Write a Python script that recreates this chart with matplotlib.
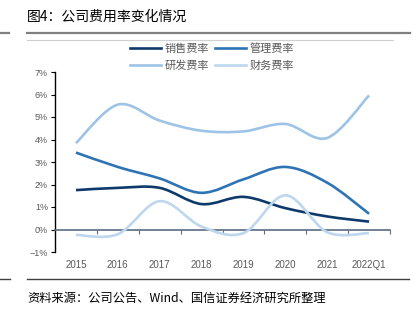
import matplotlib
matplotlib.use("Agg")
import matplotlib.pyplot as plt
import numpy as np
from matplotlib.path import Path
from matplotlib.patches import PathPatch
from matplotlib.lines import Line2D

plt.rcParams['font.family'] = ['Noto Sans CJK SC', 'DejaVu Sans']

categories = ['2015', '2016', '2017', '2018', '2019', '2020', '2021', '2022Q1']
sales_rate = [1.75, 1.85, 1.85, 1.13, 1.45, 0.95, 0.58, 0.35]
admin_rate = [3.42, 2.78, 2.27, 1.63, 2.23, 2.78, 2.08, 0.70]
rd_rate = [3.84, 5.55, 4.84, 4.39, 4.36, 4.69, 4.07, 5.96]
fin_rate = [-0.24, -0.21, 1.26, 0.13, -0.16, 1.52, -0.12, -0.16]
series_names = ['销售费率', '管理费率', '研发费率', '财务费率']
y_ticks = [-1, 0, 1, 2, 3, 4, 5, 6, 7]

colors = ['#0E3A6B', '#2E74B5', '#9DC3E6', '#BDD7EE']

W, H = 417, 322
fig = plt.figure(figsize=(W / 100, H / 100), dpi=100)
ax = fig.add_axes([55 / W, (H - 252) / H, (390 - 55) / W, (252 - 72) / H])


def smooth_path(xs, ys):
    pts = np.column_stack([xs, ys]).astype(float)
    n = len(pts)
    verts = [pts[0]]
    codes = [Path.MOVETO]
    for i in range(n - 1):
        p0 = pts[i - 1] if i > 0 else pts[i]
        p1 = pts[i]
        p2 = pts[i + 1]
        p3 = pts[i + 2] if i + 2 < n else pts[i + 1]
        c1 = p1 + (p2 - p0) / 6.0
        c2 = p2 - (p3 - p1) / 6.0
        verts += [c1, c2, p2]
        codes += [Path.CURVE4] * 3
    return Path(verts, codes)


x = np.arange(len(categories))
handles = []
for vals, c, name in zip([sales_rate, admin_rate, rd_rate, fin_rate], colors, series_names):
    patch = PathPatch(smooth_path(x, vals), facecolor='none', edgecolor=c, lw=1.9,
                      capstyle='butt', zorder=3)
    ax.add_patch(patch)
    handles.append(Line2D([], [], color=c, lw=1.9, label=name))

ax.set_xlim(-0.5, len(categories) - 0.5)
ax.set_ylim(-1, 7)
ax.set_yticks(y_ticks)
ax.set_yticklabels([f'{v}%'.replace('-', '\u2212') for v in y_ticks],
                   fontsize=6.5, color='#595959', family=['Liberation Sans', 'DejaVu Sans'])
ax.tick_params(axis='y', direction='out', length=3, width=0.8, color='black', pad=2)

for s in ['top', 'right']:
    ax.spines[s].set_visible(False)
ax.spines['left'].set_color('black')
ax.spines['left'].set_linewidth(1.0)
ax.spines['bottom'].set_position(('data', 0))
ax.spines['bottom'].set_color('#5B6B80')
ax.spines['bottom'].set_linewidth(1.2)

ax.set_xticks(np.arange(0.5, len(categories), 1.0))
ax.set_xticklabels([])
ax.tick_params(axis='x', which='major', direction='out', length=3, width=0.8, color='#5B6B80')
ax.set_xticks(x, minor=True)
ax.set_xticklabels(categories, minor=True, fontsize=7, color='#595959',
                   family=['Liberation Sans', 'DejaVu Sans'])
ax.tick_params(axis='x', which='minor', length=0, pad=22)

# legend fills column-wise: order so rows read 销售/管理, 研发/财务
leg_order = [handles[0], handles[2], handles[1], handles[3]]
fig.legend(handles=leg_order, loc='center', bbox_to_anchor=(212 / W, 1 - 57 / H), ncol=2,
           frameon=False, fontsize=8, handlelength=2.8, handletextpad=0.3,
           columnspacing=0.6, labelspacing=0.55, labelcolor='#595959')

fig.text(27 / W, 1 - 17 / H, '图4：公司费用率变化情况', fontsize=10, va='center', ha='left',
         color='black')
fig.text(27 / W, 1 - 298 / H, '资料来源：公司公告、Wind、国信证券经济研究所整理', fontsize=8.8,
         va='center', ha='left', color='black')

def hline(x0, x1, y, color, lw):
    fig.add_artist(Line2D([x0 / W, x1 / W], [1 - y / H, 1 - y / H], color=color, lw=lw,
                          transform=fig.transFigure))

hline(0, 9, 33, '#808080', 1.6)
hline(27, 410, 33, '#808080', 1.6)
hline(27, 393, 40, '#D0D0D0', 0.8)
hline(0, 10, 279, '#404040', 1.0)
hline(27, 409, 279, '#404040', 1.0)

fig.savefig('out.png', dpi=100)
